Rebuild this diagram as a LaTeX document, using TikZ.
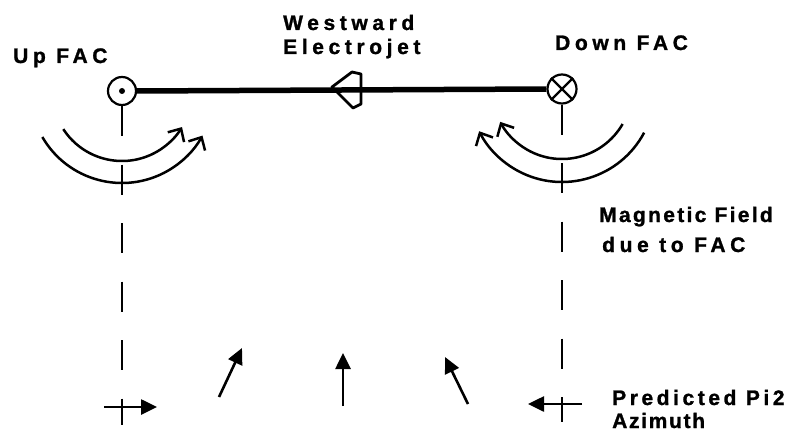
\documentclass[tikz,border=0pt]{standalone}
\usepackage{fontspec}
\newfontfamily\labelfont{Liberation Sans}[LetterSpace=22, FakeBold=1.2]
\usetikzlibrary{positioning, arrows.meta}

\tikzset{
  lbl/.style={font=\labelfont\bfseries\fontsize{21}{24}\selectfont, inner sep=0pt, anchor=base west},
  spaced/.style={font=\labelfont\addfontfeature{LetterSpace=#1}\bfseries\fontsize{21}{24}\selectfont},
  fac/.style={draw, circle, minimum size=28pt, inner sep=0pt, line width=2.2pt},
  jet/.style={line width=5.5pt},
  field/.style={line width=2.5pt, -{Straight Barb[length=10pt,width=19pt]}},
  guide/.style={line width=2pt, dash pattern=on 30pt off 28.5pt},
  azi/.style={line width=2.6pt, -{Triangle[length=16pt,width=15pt]}}
}

\begin{document}
\begin{tikzpicture}[x=1pt, y=-1pt]
  \useasboundingbox (0,0) rectangle (794,433);

  % field aligned currents
  \node [fac] (up) at (122,91) {};
  \node [fac, minimum size=29pt] (dn) at (562,89) {};
  \fill (up.center) circle (3);
  \draw [line width=2.2pt] (dn.north west) -- (dn.south east)
                           (dn.north east) -- (dn.south west);

  % electrojet with its open arrow
  \draw [jet] (up.east) -- (dn.west);
  \draw [line width=2.8pt, line join=round] (332,87) -- (352,72) -- (361,74) -- (361,104) -- (353,108) -- cycle;

  % labels
  \node [lbl] (uplbl) at (13,63) {Up FAC};
  \node [lbl] (west) at (283,30) {Westward};
  \node [lbl] (elec) at (283,54) {Electrojet};
  \node [lbl] (dnlbl) at (555,50) {Down FAC};
  \node [lbl, spaced=11] (mag) at (599,222) {Magnetic Field};
  \node [lbl] (due) at (602,252) {due to FAC};
  \node [lbl, spaced=17] (pred) at (612,405) {Predicted Pi2};
  \node [lbl, spaced=8] (azim) at (612,428) {Azimuth};

  % magnetic field round the currents
  \draw [field] (up.center) ++(147:70) arc [start angle=147, end angle=31, radius=70];
  \draw [field] (up.center) ++(150:92) arc [start angle=150, end angle=29, radius=92];
  \draw [field] (dn.center) ++(30:70) arc [start angle=30, end angle=152, radius=70];
  \draw [field] (dn.center) ++(28:93) arc [start angle=28, end angle=153, radius=93];

  % dashed guides down to the ground
  \coordinate (lend) at (122,425);
  \coordinate (rend) at (562,422);
  \draw [guide] (up.south) -- (lend);
  \draw [guide] (dn.south) -- (rend);

  % predicted azimuths
  \coordinate (lb) at (104,407);
  \coordinate (lt) at (157,407);
  \coordinate (s1) at (219,397);
  \coordinate (t1) at (242,348);
  \coordinate (s2) at (343,406);
  \coordinate (t2) at (343,353);
  \coordinate (s3) at (468,404);
  \coordinate (t3) at (445,357);
  \coordinate (rb) at (582,404);
  \coordinate (rt) at (528,404);
  \draw [azi] (lb) -- (lt);
  \draw [azi] (s1) -- (t1);
  \draw [azi] (s2) -- (t2);
  \draw [azi] (s3) -- (t3);
  \draw [azi] (rb) -- (rt);
\end{tikzpicture}
\end{document}
